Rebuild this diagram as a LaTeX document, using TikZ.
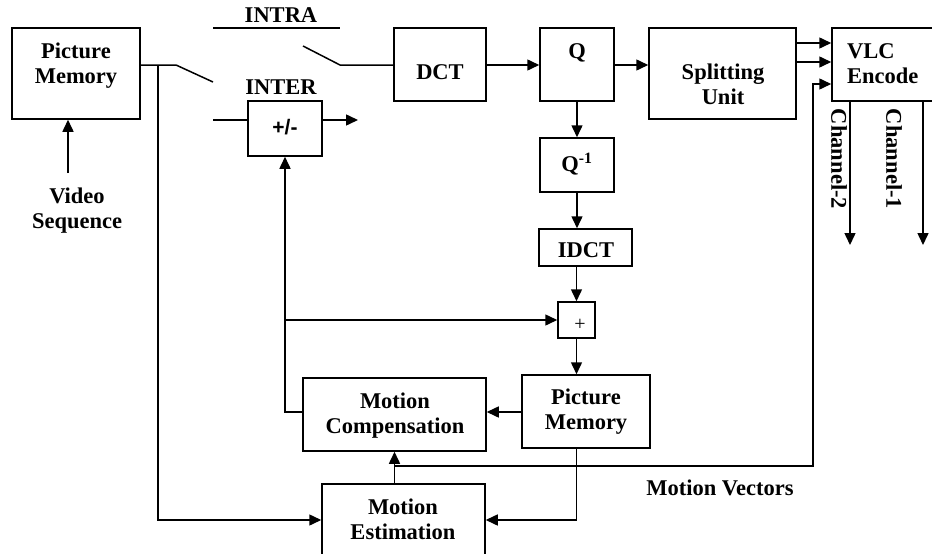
\documentclass[tikz,border=0pt]{standalone}
\usepackage{fontspec}
\setmainfont{Liberation Serif}
\setsansfont{Liberation Sans}
\usetikzlibrary{arrows.meta}
\begin{document}
\begin{tikzpicture}[x=1pt,y=-1pt,
  box/.style={draw, line width=1.5pt, inner sep=0pt, minimum width=#1},
  box/.default=10pt,
  lbl/.style={inner sep=0pt, align=center, font=\fontsize{22.5}{25}\selectfont\bfseries},
  ln/.style={line width=1.5pt},
  arr/.style={line width=1.5pt, -{Triangle[length=12pt,width=11pt]}}]
\useasboundingbox (0,0) rectangle (932,554);
% boxes
\node[box=128pt, minimum height=91pt] (pm1) at (76,73.5) {};
\node[box=92pt, minimum height=73pt] (dct) at (440,64.5) {};
\node[box=74pt, minimum height=55pt] (pmb) at (285,128.5) {};
\node[box=74pt, minimum height=73pt] (q) at (577,64.5) {};
\node[box=147pt, minimum height=91pt] (split) at (722.5,73.5) {};
\node[box=108pt, minimum height=73pt] (vlc) at (886,64.5) {};
\node[box=74pt, minimum height=54pt] (qinv) at (577,165) {};
\node[box=93pt, minimum height=37pt] (idct) at (585.5,247.5) {};
\node[box=37pt, minimum height=36pt] (plus) at (576.5,320) {};
\node[box=128pt, minimum height=73pt] (pm2) at (586,411.5) {};
\node[box=183pt, minimum height=73pt] (mc) at (394.5,414.5) {};
\node[box=163pt, minimum height=76pt] (me) at (403.5,522) {};
% texts
\node[lbl, anchor=north] (pm1t) at (76,43) {Picture\\Memory};
\node[lbl, anchor=north] (vst) at (77,188) {Video\\Sequence};
\node[lbl, anchor=north] (intra) at (281,7) {INTRA};
\node[lbl, anchor=north] (inter) at (281,80) {INTER};
\node[inner sep=0pt, font=\fontsize{21}{24}\selectfont\sffamily\bfseries] (pmbt) at (285,127) {+/-};
\node[lbl] (dctt) at (440,72) {DCT};
\node[lbl, anchor=north] (qt) at (577,43) {Q};
\node[lbl, anchor=north] (splitt) at (723,64) {Splitting\\Unit};
\node[lbl, anchor=north west, align=left] (vlct) at (847,43) {VLC\\Encode};
\node[lbl, anchor=north] (qinvt) at (577,153) {Q\textsuperscript{-1}};
\node[lbl] (idctt) at (586,250) {IDCT};
\node[inner sep=0pt, font=\fontsize{20}{20}\selectfont] (plust) at (580,325) {+};
\node[lbl, anchor=north] (mct) at (395,393) {Motion\\Compensation};
\node[lbl, anchor=north] (met) at (403,499) {Motion\\Estimation};
\node[lbl, anchor=north] (pm2t) at (586,389) {Picture\\Memory};
\node[lbl, anchor=north] (mvt) at (720,480) {Motion Vectors};
\node[lbl, rotate=-90] (ch2) at (839,159) {Channel-2};
\node[lbl, rotate=-90] (ch1) at (894,159) {Channel-1};
% coordinates
\coordinate (vsrc) at (68,173);
\coordinate (j1) at (158,65);
\coordinate (s1a) at (176,65);
\coordinate (s1b) at (213,82);
\coordinate (ia) at (213,28);
\coordinate (ib) at (340,28);
\coordinate (s2a) at (303,46);
\coordinate (s2b) at (340,65);
\coordinate (ta) at (213,120);
\coordinate (tout) at (358,120);
\coordinate (fb) at (285,320);
\coordinate (fbc) at (285,412);
\coordinate (mvj) at (395,466);
\coordinate (mvr) at (813,466);
\coordinate (mvt2) at (813,84);
\coordinate (c2) at (850,245);
\coordinate (c1) at (923,245);
% connectors
\draw[arr] (vsrc) -- (vsrc |- pm1.south);
\draw[ln] (pm1.east |- j1) -- (s1a) -- (s1b);
\draw[arr] (j1) -- (158,520) -- (me.west |- 0,520);
\draw[ln] (ia) -- (ib);
\draw[ln] (s2a) -- (s2b) -- (dct.west |- s2b);
\draw[ln] (ta) -- (pmb.west |- ta);
\draw[arr] (pmb.east |- ta) -- (tout);
\draw[arr] (dct.east |- 0,65) -- (q.west |- 0,65);
\draw[arr] (q.east |- 0,65) -- (split.west |- 0,65);
\draw[arr] (split.east |- 0,43) -- (vlc.west |- 0,43);
\draw[arr] (split.east |- 0,62) -- (vlc.west |- 0,62);
\draw[arr] (q.south) -- (qinv.north);
\draw[arr] (qinv.south) -- (qinv.south |- idct.north);
\draw[arr] (plus.north |- idct.south) -- (plus.north);
\draw[arr] (plus.south) -- (plus.south |- pm2.north);
\draw[arr] (pm2.west |- fbc) -- (mc.east |- fbc);
\draw[arr] (mc.west |- fbc) -- (fbc) -- (pmb.south);
\draw[arr] (fb) -- (plus.west |- fb);
\draw[arr] (plus.south |- pm2.south) -- (plus.south |- 0,520) -- (me.east |- 0,520);
\draw[arr] (mc.south |- me.north) -- (mc.south);
\draw[arr] (mvj) -- (mvr) -- (mvt2) -- (vlc.west |- mvt2);
\draw[arr] (vlc.south -| c2) -- (c2);
\draw[arr] (vlc.south -| c1) -- (c1);
\end{tikzpicture}
\end{document}
